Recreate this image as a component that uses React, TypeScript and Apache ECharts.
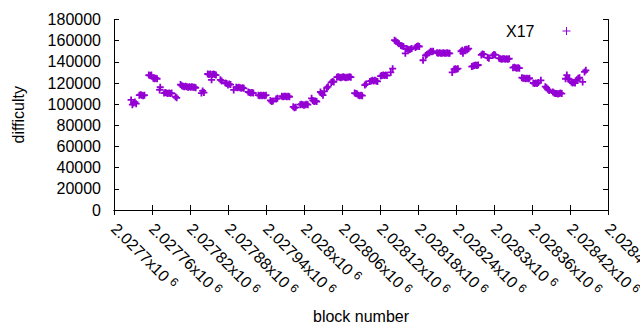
import React, { useEffect, useRef } from "react";
import * as echarts from "echarts";

// x-axis (block number) range and ticks
const xMin = 2027700;
const xMax = 2028480;
const xStep = 60;
// y-axis (difficulty) range and ticks
const yMin = 0;
const yMax = 180000;
const yStep = 20000;

const seriesName = "X17";

// [block number, difficulty]
const samples: [number, number][] = [
  [2027727, 104000], [2027729, 99500], [2027731, 101000], [2027733, 102000], [2027735, 100500],
  [2027740, 108500], [2027742, 109000], [2027744, 108500], [2027746, 108000], [2027748, 108500],
  [2027755, 127500], [2027757, 127000], [2027759, 127500],
  [2027762, 124500], [2027764, 124000], [2027766, 124500], [2027768, 124000],
  [2027772, 113500], [2027773, 116000],
  [2027779, 110500], [2027781, 111000], [2027783, 110500], [2027785, 110000], [2027787, 110500], [2027789, 110000], [2027791, 110500],
  [2027797, 107000], [2027799, 106000],
  [2027805, 118500], [2027807, 117500], [2027809, 117000], [2027811, 116500], [2027813, 117000], [2027815, 116500], [2027817, 116000],
  [2027819, 116500], [2027821, 116000], [2027823, 116500], [2027825, 116000], [2027827, 116000], [2027829, 115500],
  [2027838, 110500], [2027840, 112500], [2027842, 111000],
  [2027848, 128500], [2027850, 128000], [2027852, 128500], [2027854, 123000], [2027855, 128000], [2027857, 128500], [2027859, 128000], [2027861, 127500],
  [2027868, 123000], [2027870, 122000],
  [2027876, 120000], [2027878, 119500], [2027880, 118000], [2027882, 119000], [2027884, 118500],
  [2027889, 113500],
  [2027893, 116000], [2027895, 115500], [2027897, 116000], [2027899, 115500], [2027901, 115000], [2027903, 115500], [2027905, 115000],
  [2027912, 111500], [2027914, 111000], [2027916, 110500], [2027918, 111000], [2027920, 110500],
  [2027928, 108500], [2027930, 108000], [2027932, 108500], [2027934, 108000], [2027936, 108500], [2027938, 108000], [2027940, 108500],
  [2027947, 103500], [2027949, 102500], [2027951, 103000],
  [2027956, 105000], [2027958, 105500],
  [2027965, 107500], [2027967, 107000], [2027969, 107500], [2027971, 107500], [2027973, 107000], [2027975, 107500], [2027977, 107000],
  [2027983, 97500], [2027985, 96500], [2027987, 97000],
  [2027994, 99500], [2027996, 100000], [2027998, 99500], [2028000, 99000], [2028002, 99500], [2028004, 100000], [2028006, 99500],
  [2028012, 105500], [2028014, 103500], [2028016, 102500], [2028018, 103000], [2028020, 102500],
  [2028026, 111500], [2028028, 110000], [2028030, 108500], [2028032, 112000],
  [2028036, 115500], [2028038, 116500],
  [2028043, 120500], [2028045, 121500], [2028047, 121000],
  [2028052, 125500], [2028054, 126000], [2028056, 125500], [2028058, 125000], [2028060, 125500], [2028062, 126000],
  [2028064, 125500], [2028066, 125000], [2028068, 125500], [2028070, 125500], [2028072, 126000], [2028074, 125500],
  [2028080, 110500], [2028082, 110000], [2028084, 109500], [2028086, 108500], [2028088, 108000], [2028090, 108500], [2028092, 108000],
  [2028096, 118000], [2028098, 119000],
  [2028104, 121500], [2028106, 122000], [2028108, 122500], [2028110, 122000], [2028112, 122500], [2028114, 122000], [2028116, 121500],
  [2028121, 126500], [2028123, 127000], [2028125, 127500], [2028127, 127000], [2028129, 127500], [2028131, 127000],
  [2028137, 130000], [2028140, 133500],
  [2028143, 160500], [2028145, 159500],
  [2028148, 158000], [2028150, 157000],
  [2028153, 155500], [2028155, 155000], [2028157, 154500],
  [2028160, 148000],
  [2028162, 152500], [2028164, 152000], [2028166, 151500], [2028168, 152000], [2028170, 152500],
  [2028176, 153500], [2028178, 154500], [2028180, 155000], [2028182, 154500],
  [2028188, 141500], [2028192, 146000], [2028194, 147000],
  [2028198, 148500], [2028200, 150000], [2028202, 149500], [2028204, 150000],
  [2028210, 148500], [2028212, 148000], [2028214, 148500], [2028216, 148000], [2028218, 148000], [2028220, 148500],
  [2028222, 148000], [2028224, 148000], [2028226, 148500], [2028228, 148000], [2028230, 148000],
  [2028234, 130000], [2028237, 133000], [2028239, 133500], [2028241, 133000], [2028243, 133500],
  [2028248, 150000], [2028250, 151000], [2028251, 148000], [2028254, 151500], [2028256, 152000], [2028258, 151500], [2028260, 152500],
  [2028265, 135500], [2028267, 136000], [2028269, 136500], [2028271, 137000], [2028273, 136500], [2028275, 137000],
  [2028280, 146500], [2028282, 147500], [2028284, 147000],
  [2028290, 144000], [2028292, 143500],
  [2028298, 146000], [2028300, 147000], [2028302, 146500],
  [2028308, 143500], [2028310, 143000], [2028312, 142500], [2028314, 143000], [2028316, 143000], [2028318, 142500],
  [2028320, 143000], [2028322, 142500], [2028324, 143000],
  [2028330, 134500], [2028332, 135000], [2028334, 134500], [2028336, 134000], [2028338, 134500], [2028340, 134000],
  [2028344, 125000], [2028346, 124500], [2028348, 124500], [2028350, 124000], [2028352, 124500], [2028354, 124000], [2028356, 124500],
  [2028362, 120000], [2028364, 119500], [2028366, 120000], [2028368, 119500], [2028370, 120500], [2028374, 122500],
  [2028381, 116500], [2028383, 115500], [2028385, 114000], [2028387, 113000],
  [2028393, 111500], [2028395, 110500], [2028397, 110000], [2028399, 110000], [2028401, 109500], [2028403, 110000], [2028405, 110500], [2028407, 110000],
  [2028413, 124000], [2028415, 127500], [2028417, 124000], [2028419, 123500],
  [2028422, 121000], [2028424, 120000], [2028426, 120500], [2028428, 120000],
  [2028431, 123000], [2028433, 124500], [2028435, 125000],
  [2028440, 121000],
  [2028443, 130500], [2028445, 132000],
];

const PURPLE = "#9400d3";
const FONT = "'Liberation Sans', Arial, sans-serif";
const PLUS = "path://M0,5H10M5,0V10";

function fmtX(v: number): string {
  const s = String(Number((v / 1e6).toFixed(6)));
  return `{b|${s}x10}{s|6}`;
}

export default function App() {
  const ref = useRef<HTMLDivElement>(null);
  useEffect(() => {
    if (!ref.current) return;
    const chart = echarts.init(ref.current, null, { renderer: "svg" });
    const axisLine = { show: true, lineStyle: { color: "#000", width: 1 } };
    const tick = { show: true, inside: true, length: 5, lineStyle: { color: "#000", width: 1 } };
    chart.setOption({
      animation: false,
      backgroundColor: "#fff",
      textStyle: { fontFamily: FONT },
      grid: {
        left: 114,
        right: 32,
        top: 19.5,
        bottom: 120,
        containLabel: false,
        outerBoundsMode: "none",
      },
      legend: {
        show: true,
        data: [seriesName],
        right: 64,
        top: 18,
        align: "right",
        itemWidth: 8,
        itemHeight: 8,
        icon: PLUS,
        itemStyle: { color: PURPLE, borderColor: PURPLE, borderWidth: 1 },
        textStyle: { fontSize: 16, color: "#000", fontFamily: FONT, padding: [0, 23, 0, 0] },
      },
      xAxis: [
        {
          type: "value",
          position: "bottom",
          min: xMin,
          max: xMax,
          interval: xStep,
          axisLine,
          axisTick: tick,
          splitLine: { show: false },
          name: "block number",
          nameLocation: "middle",
          nameGap: 98,
          nameMoveOverlap: false,
          nameTextStyle: { fontSize: 16, color: "#000", fontFamily: FONT },
          axisLabel: {
            rotate: -45,
            margin: 16,
            color: "#000",
            formatter: fmtX,
            rich: {
              b: { fontSize: 16, lineHeight: 18, color: "#000", fontFamily: FONT },
              s: { fontSize: 12, lineHeight: 12, color: "#000", fontFamily: FONT, padding: [0, 0, 6, 4] },
            },
          },
        },
        {
          type: "value",
          position: "top",
          min: xMin,
          max: xMax,
          interval: xStep,
          axisLine,
          axisTick: tick,
          splitLine: { show: false },
          axisLabel: { show: false },
        },
      ],
      yAxis: [
        {
          type: "value",
          position: "left",
          min: yMin,
          max: yMax,
          interval: yStep,
          axisLine,
          axisTick: tick,
          splitLine: { show: false },
          name: "difficulty",
          nameLocation: "middle",
          nameGap: 88,
          nameMoveOverlap: false,
          nameRotate: 90,
          nameTextStyle: { fontSize: 16, color: "#000", fontFamily: FONT },
          axisLabel: {
            margin: 13,
            fontSize: 16,
            color: "#000",
            fontFamily: FONT,
            formatter: (v: number) => String(v),
          },
        },
        {
          type: "value",
          position: "right",
          min: yMin,
          max: yMax,
          interval: yStep,
          axisLine,
          axisTick: tick,
          splitLine: { show: false },
          axisLabel: { show: false },
        },
      ],
      series: [
        {
          name: seriesName,
          type: "scatter",
          xAxisIndex: 0,
          yAxisIndex: 0,
          data: samples,
          symbol: PLUS,
          symbolSize: 7,
          itemStyle: { color: PURPLE, borderColor: PURPLE, borderWidth: 1.8, opacity: 1 },
          emphasis: { disabled: true },
        },
      ],
    });
    return () => chart.dispose();
  }, []);
  return <div ref={ref} style={{ position: "fixed", left: 0, top: 0, width: 640, height: 330 }} />;
}
